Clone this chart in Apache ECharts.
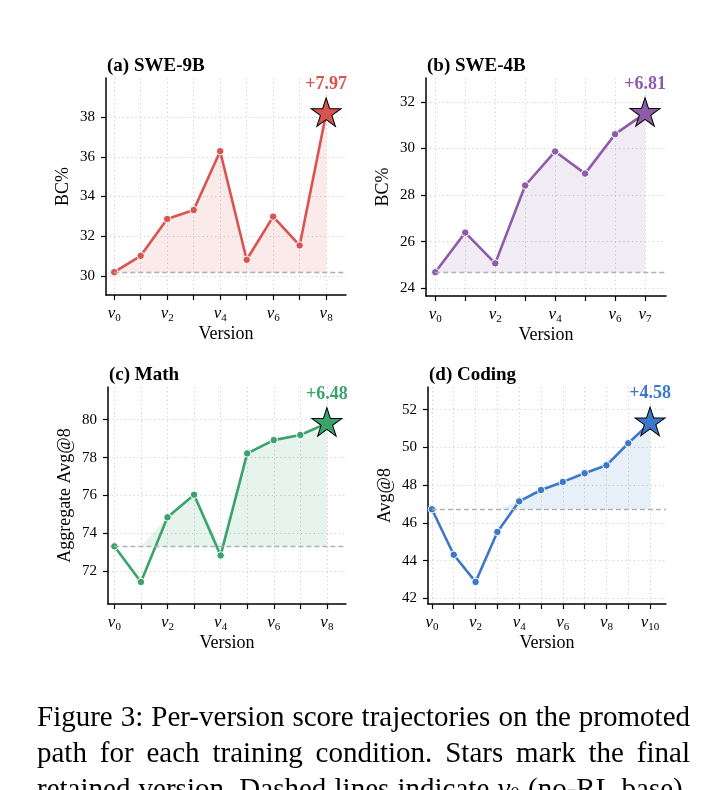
<!DOCTYPE html>
<html lang="en">
<head>
    <meta charset="UTF-8">
    <title>Per-version score trajectories</title>
    <script src="https://cdn.jsdelivr.net/npm/echarts@6.0.0/dist/echarts.min.js"></script>
</head>
<style>
    *{
        margin: 0;
        padding: 0;
    }
    html,body{
        width: 100%;
        height: 100%;
        overflow: hidden;
        background: #fff;
    }
    .container{
        width: 728px;
        height: 790px;
    }
</style>
<body>
<div class="container"></div>
<script>
   // scores per version v0, v1, ...
   let sweNineB = [30.20, 31.02, 32.87, 33.32, 36.28, 30.82, 32.99, 31.54, 38.17];
   let sweFourB = [24.69, 26.39, 25.07, 28.41, 29.87, 28.92, 30.61, 31.50];
   let mathScores = [73.32, 71.44, 74.85, 76.04, 72.84, 78.22, 78.92, 79.19, 79.80];
   let codingScores = [46.72, 44.31, 42.87, 45.52, 47.14, 47.74, 48.17, 48.63, 49.05, 50.22, 51.30];

   let gainLabels = ['+7.97', '+6.81', '+6.48', '+4.58'];

   // versions that get a tick label
   let xLabelsA = [0, 2, 4, 6, 8];
   let xLabelsB = [0, 2, 4, 6, 7];
   let xLabelsC = [0, 2, 4, 6, 8];
   let xLabelsD = [0, 2, 4, 6, 8, 10];

   let yTicksA = [30, 32, 34, 36, 38];
   let yTicksB = [24, 26, 28, 30, 32];
   let yTicksC = [72, 74, 76, 78, 80];
   let yTicksD = [42, 44, 46, 48, 50, 52];

   let captionLines = [
       'Figure 3: Per-version score trajectories on the promoted',
       'path for each training condition. Stars mark the final',
       'retained version. Dashed lines indicate v0 (no-RL base).'
   ];

   let serif = '"Liberation Serif", "Times New Roman", serif';

   let panels = [
       {title: '(a) SWE-9B', yName: 'BC%', values: sweNineB, gain: gainLabels[0], xLabels: xLabelsA, yTicks: yTicksA,
        color: '#d9534f', fill: 'rgba(217,83,79,0.12)', x: [-0.31, 8.75], y: [29.05, 39.96], box: [106, 78, 240, 217]},
       {title: '(b) SWE-4B', yName: 'BC%', values: sweFourB, gain: gainLabels[1], xLabels: xLabelsB, yTicks: yTicksB,
        color: '#8e5ba8', fill: 'rgba(142,91,168,0.12)', x: [-0.31, 7.7], y: [23.67, 33.02], box: [426, 78, 240, 218]},
       {title: '(c) Math', yName: 'Aggregate Avg@8', values: mathScores, gain: gainLabels[2], xLabels: xLabelsC, yTicks: yTicksC,
        color: '#3aa36b', fill: 'rgba(58,163,107,0.12)', x: [-0.24, 8.72], y: [70.28, 81.72], box: [108, 387, 238, 217]},
       {title: '(d) Coding', yName: 'Avg@8', values: codingScores, gain: gainLabels[3], xLabels: xLabelsD, yTicks: yTicksD,
        color: '#3b78c7', fill: 'rgba(59,120,199,0.12)', x: [-0.18, 10.73], y: [41.70, 53.2], box: [428, 387, 238, 217]}
   ];

   // five-point star like matplotlib's '*'
   let starPts = [];
   for (let k = 0; k < 10; k++) {
       let r = k % 2 ? 0.382 : 1;
       let a = Math.PI / 2 + k * Math.PI / 5;
       starPts.push((r * Math.cos(a)).toFixed(3) + ' ' + (-r * Math.sin(a)).toFixed(3));
   }
   let starPath = 'path://M' + starPts.join(' L') + ' Z';

   let gridLine = {show: true, lineStyle: {type: [1.2, 3], color: '#cfcfcf', width: 1}};

   let grid = [], xAxis = [], yAxis = [], series = [], title = [];

   panels.forEach((p, i) => {
       let base = p.values[0];
       let last = p.values.length - 1;
       let versions = p.values.map((v, k) => k);

       grid.push({left: p.box[0], top: p.box[1], width: p.box[2], height: p.box[3]});

       title.push({
           text: p.title, left: p.box[0] + 1, top: p.box[1] - 21, padding: 0,
           textStyle: {fontFamily: serif, fontWeight: 'bold', fontSize: 19, color: '#000'}
       });

       xAxis.push({
           type: 'value', gridIndex: i, min: p.x[0], max: p.x[1],
           name: 'Version', nameLocation: 'middle', nameGap: 30,
           nameTextStyle: {fontFamily: serif, fontSize: 18, color: '#000'},
           axisLine: {show: true, onZero: false, lineStyle: {color: '#000', width: 1.5}},
           axisTick: {show: true, customValues: versions, length: 5, lineStyle: {color: '#000', width: 1.2}},
           axisLabel: {
               customValues: p.xLabels, margin: 9,
               formatter: v => '{v|v}{s|' + v + '}',
               rich: {
                   v: {fontFamily: serif, fontStyle: 'italic', fontSize: 17, color: '#000', lineHeight: 20},
                   s: {fontFamily: serif, fontSize: 11, color: '#000', lineHeight: 11, verticalAlign: 'bottom'}
               }
           },
           splitLine: gridLine
       });

       yAxis.push({
           type: 'value', gridIndex: i, min: p.y[0], max: p.y[1],
           name: p.yName, nameLocation: 'middle', nameGap: 34, nameRotate: 90,
           nameTextStyle: {fontFamily: serif, fontSize: 18, color: '#000'},
           axisLine: {show: true, onZero: false, lineStyle: {color: '#000', width: 1.5}},
           axisTick: {show: true, customValues: p.yTicks, length: 5, lineStyle: {color: '#000', width: 1.2}},
           axisLabel: {customValues: p.yTicks, margin: 11, fontFamily: serif, fontSize: 15, color: '#000'},
           splitLine: gridLine
       });

       // shaded gain over the v0 baseline (score clipped at the baseline)
       series.push({
           type: 'custom', xAxisIndex: i, yAxisIndex: i, z: 1, silent: true,
           data: [[0, base]],
           renderItem: (params, api) => {
               let top = p.values.map((v, k) => api.coord([k, Math.max(v, base)]));
               let bottom = p.values.map((v, k) => api.coord([k, base])).reverse();
               return {type: 'polygon', shape: {points: top.concat(bottom)}, style: {fill: p.fill}};
           }
       });

       series.push({
           type: 'line', xAxisIndex: i, yAxisIndex: i, z: 3,
           data: p.values.map((v, k) => [k, v]),
           symbol: 'circle', symbolSize: 7.5,
           lineStyle: {color: p.color, width: 2.6},
           itemStyle: {color: p.color, borderColor: '#fff', borderWidth: 1},
           markLine: {
               silent: true, symbol: ['none', 'none'], label: {show: false},
               lineStyle: {type: [5, 3], color: '#b0b0b0', width: 1.3},
               data: [[{coord: [0, base]}, {coord: [p.x[1], base]}]]
           }
       });

       series.push({
           type: 'scatter', xAxisIndex: i, yAxisIndex: i, z: 5,
           data: [[last, p.values[last]]],
           symbol: starPath, symbolSize: [30, 28.5], symbolOffset: [0, -1.5],
           itemStyle: {color: p.color, borderColor: '#000', borderWidth: 1, opacity: 1},
           label: {
               show: true, position: 'top', distance: 4, formatter: p.gain,
               color: p.color, fontFamily: serif, fontWeight: 'bold', fontSize: 18
           }
       });
   });

   // caption, justified word by word across the text block
   let measure = document.createElement('canvas').getContext('2d');
   let capSize = 29, capLeft = 37, capWidth = 653;
   let capTops = [704, 740, 776];
   let graphic = [];
   captionLines.forEach((line, li) => {
       let words = line.split(' ');
       let widths = words.map(w => {
           if (w === 'v0') {
               measure.font = 'italic ' + capSize + 'px "Liberation Serif"';
               let a = measure.measureText('v').width;
               measure.font = '19px "Liberation Serif"';
               return a + measure.measureText('0').width;
           }
           measure.font = capSize + 'px "Liberation Serif"';
           return measure.measureText(w).width;
       });
       let total = widths.reduce((s, w) => s + w, 0);
       let gap = (capWidth - total) / (words.length - 1);
       let x = capLeft;
       words.forEach((w, wi) => {
           graphic.push({
               type: 'text', x: x, y: capTops[li],
               style: {
                   text: w === 'v0' ? '{v|v}{s|0}' : '{n|' + w + '}',
                   rich: {
                       n: {fontFamily: serif, fontSize: capSize, fill: '#000'},
                       v: {fontFamily: serif, fontStyle: 'italic', fontSize: capSize, fill: '#000'},
                       s: {fontFamily: serif, fontSize: 19, fill: '#000', verticalAlign: 'bottom'}
                   }
               }
           });
           x += widths[wi] + gap;
       });
   });

   let mycharts = echarts.init(document.querySelector('.container'));
   mycharts.setOption({
       animation: false,
       backgroundColor: '#fff',
       title,
       grid,
       xAxis,
       yAxis,
       series,
       graphic
   });
</script>
</body>
</html>
